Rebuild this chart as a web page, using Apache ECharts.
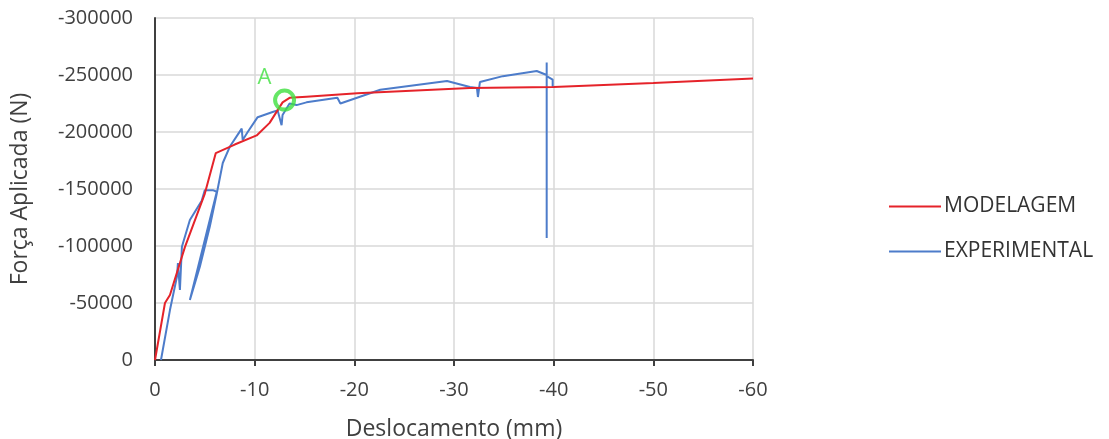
<!DOCTYPE html>
<html>
<head>
<meta charset="utf-8">
<script src="https://cdn.jsdelivr.net/npm/echarts@6/dist/echarts.min.js"></script>
<style>html,body{margin:0;padding:0;background:#fff;}#c{width:1109px;height:439px;}</style>
</head>
<body>
<div id="c"></div>
<script>
const xTicks = [0, -10, -20, -30, -40, -50, -60];
const yTicks = [0, -50000, -100000, -150000, -200000, -250000, -300000];

const modelX = [0, -0.5, -1.0, -1.5, -3.0, -5.0, -6.1, -8.0, -10.2, -11.5, -12.8, -13.5, -15.2, -20.3, -31.6, -40, -50, -60];
const modelY = [0, -25000, -50000, -57000, -99000, -146000, -181500, -189000, -197000, -208000, -226000, -230000, -231000, -234000, -238500, -239500, -243000, -247000];

const expX = [-0.6, -1.5, -2.2, -2.3, -2.5, -2.7, -3.5, -4.7, -5.0, -5.8, -6.2, -3.5, -4.5, -5.5, -6.2, -6.8, -7.5, -8.7, -8.8, -9.3, -10.3, -11.8, -12.3, -12.7, -12.8, -13.5, -14.2, -15.2, -18.3, -18.6, -22.6, -29.3, -31.6, -32.3, -32.4, -32.6, -34.9, -38.3, -39.3, -39.3, -39.3, -39.3, -39.9, -39.9];
const expY = [0, -43800, -73000, -85000, -61400, -99400, -122800, -140000, -149000, -149000, -147600, -52600, -81800, -117000, -146000, -172800, -187000, -203000, -193000, -200000, -213000, -217500, -219000, -206000, -215000, -225000, -223600, -226000, -230000, -225000, -237000, -244700, -239400, -238600, -230700, -243800, -249000, -253500, -250000, -261000, -107000, -249000, -246000, -238600];

const pointAX = [-13.0];
const pointAY = [-228000];

const zip = (a, b) => a.map((v, i) => [v, b[i]]);
const FONT = 'Open Sans';

const chart = echarts.init(document.getElementById('c'));
chart.setOption({
  animation: false,
  backgroundColor: '#fff',
  grid: { left: 155, right: 356, top: 18, bottom: 79, containLabel: false, outerBoundsMode: 'none' },
  legend: {
    data: ['MODELAGEM', 'EXPERIMENTAL'],
    orient: 'vertical',
    left: 884,
    top: 191,
    itemGap: 24,
    itemWidth: 52,
    itemHeight: 2,
    icon: 'rect',
    textStyle: { fontFamily: FONT, fontSize: 21, color: '#333', padding: [0, 0, 0, -2] }
  },
  xAxis: {
    type: 'value',
    min: -60, max: 0, interval: 10,
    inverse: true,
    name: 'Deslocamento (mm)',
    nameLocation: 'middle',
    nameGap: 58,
    nameTextStyle: { fontFamily: FONT, fontSize: 23, color: '#404040' },
    axisLine: { onZero: false, lineStyle: { color: '#404040', width: 2 } },
    axisTick: { show: true, length: 6, lineStyle: { color: '#404040', width: 2 } },
    axisLabel: { fontFamily: FONT, fontSize: 20, color: '#404040', margin: 20, formatter: v => String(v) },
    splitLine: { show: true, lineStyle: { color: '#d9d9d9', width: 1.5 } }
  },
  yAxis: {
    type: 'value',
    min: -300000, max: 0, interval: 50000,
    inverse: true,
    name: 'Força Aplicada (N)',
    nameLocation: 'middle',
    nameGap: 123,
    nameTextStyle: { fontFamily: FONT, fontSize: 23, color: '#404040' },
    axisLine: { onZero: false, lineStyle: { color: '#404040', width: 2 } },
    axisTick: { show: false },
    axisLabel: { fontFamily: FONT, fontSize: 20, color: '#404040', margin: 22, formatter: v => String(v) },
    splitLine: { show: true, lineStyle: { color: '#d9d9d9', width: 1.5 } }
  },
  series: [
    {
      name: 'MODELAGEM', type: 'line', data: zip(modelX, modelY),
      showSymbol: false, symbol: 'none',
      lineStyle: { color: '#e5232a', width: 2 }, itemStyle: { color: '#e5232a' }, z: 3
    },
    {
      name: 'EXPERIMENTAL', type: 'line', data: zip(expX, expY),
      showSymbol: false, symbol: 'none',
      lineStyle: { color: '#4d7cca', width: 2 }, itemStyle: { color: '#4d7cca' }, z: 2
    },
    {
      name: 'A', type: 'scatter', data: zip(pointAX, pointAY),
      symbol: 'circle', symbolSize: 19,
      itemStyle: { color: 'rgba(0,0,0,0)', borderColor: '#3ee03e', borderWidth: 4 },
      label: { show: true, formatter: 'A', position: 'top', offset: [-20, 5], fontFamily: FONT, fontSize: 22, color: '#3ee03e' },
      z: 5
    }
  ]
});
</script>
</body>
</html>
